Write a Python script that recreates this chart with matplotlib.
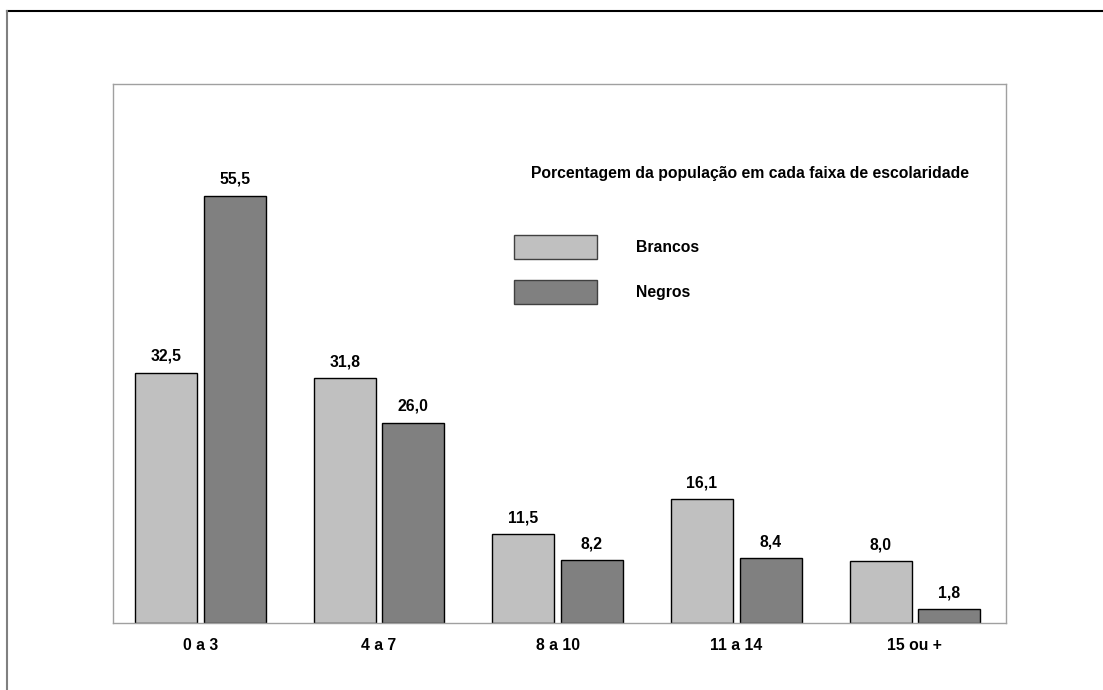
import matplotlib.pyplot as plt
from matplotlib.lines import Line2D
from matplotlib.patches import Rectangle
import numpy as np

plt.rcParams['font.family'] = ['Liberation Sans', 'DejaVu Sans']

faixas = ['0 a 3', '4 a 7', '8 a 10', '11 a 14', '15 ou +']
brancos = [32.5, 31.8, 11.5, 16.1, 8.0]
negros = [55.5, 26.0, 8.2, 8.4, 1.8]

cor_brancos = '#C0C0C0'
cor_negros = '#808080'
fs = 11.3

fig = plt.figure(figsize=(11.03, 6.90), dpi=100)
ax = fig.add_axes([0.1024, 0.0971, 0.8096, 0.7812])

x = np.arange(len(faixas)) + 0.49
w = 0.347
off = 0.192

b1 = ax.bar(x - off, brancos, w, color=cor_brancos, edgecolor='black', linewidth=1)
b2 = ax.bar(x + off, negros, w, color=cor_negros, edgecolor='black', linewidth=1)

for bars, vals in ((b1, brancos), (b2, negros)):
    for r, v in zip(bars, vals):
        ax.annotate(f'{v:.1f}'.replace('.', ','),
                    (r.get_x() + r.get_width() / 2, v),
                    xytext=(0, 8.5), textcoords='offset points',
                    ha='center', va='baseline', fontsize=fs, fontweight='bold')

ax.set_xlim(0, 5)
ax.set_ylim(0, 70)
ax.set_xticks(x)
ax.set_xticklabels(faixas, fontsize=fs, fontweight='bold')
ax.tick_params(axis='x', length=0, pad=11)
ax.set_yticks([])
for s in ax.spines.values():
    s.set_color('#A0A0A0')
    s.set_linewidth(1)

# legenda desenhada à mão
ax.text(0.713, 0.833, 'Porcentagem da população em cada faixa de escolaridade',
        transform=ax.transAxes, ha='center', va='center',
        fontsize=fs, fontweight='bold')
for y0, cor, nome in ((0.675, cor_brancos, 'Brancos'), (0.592, cor_negros, 'Negros')):
    ax.add_patch(Rectangle((0.449, y0), 0.093, 0.044, transform=ax.transAxes,
                           facecolor=cor, edgecolor='#404040', linewidth=1))
    ax.text(0.586, y0 + 0.022, nome, transform=ax.transAxes,
            ha='left', va='center', fontsize=fs, fontweight='bold')

# moldura externa (apenas topo e esquerda)
fig.add_artist(Line2D([0.0063, 1], [0.984, 0.984], color='black', linewidth=1.5))
fig.add_artist(Line2D([0.0063, 0.0063], [0, 0.984], color='#808080', linewidth=1.5))

fig.savefig('out.png', dpi=100)
